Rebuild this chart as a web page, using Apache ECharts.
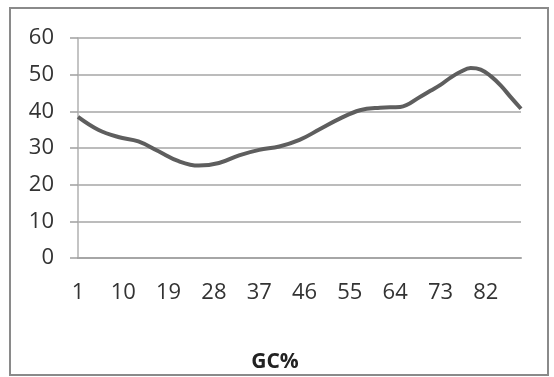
<!DOCTYPE html>
<html>
<head>
<meta charset="utf-8">
<script src="https://cdn.jsdelivr.net/npm/echarts@6/dist/echarts.min.js"></script>
<style>
html,body{margin:0;padding:0;background:#fff;}
#c{width:554px;height:377px;}
</style>
</head>
<body>
<div id="c"></div>
<script>
// GC% positions (category number) where the curve was read, and values
var gcPositions = [1, 5, 9, 13, 17, 21, 25, 29, 33, 37, 41, 45, 49, 53, 57, 61, 65, 69, 71, 73, 75, 77, 79, 81, 83, 85, 87, 89];
var values      = [38.5, 35.0, 33.0, 31.8, 29.1, 26.4, 25.2, 25.9, 28.0, 29.5, 30.4, 32.2, 35.1, 38.0, 40.3, 41.0, 41.2, 44.0, 45.6, 47.2, 49.2, 50.8, 51.8, 51.4, 49.6, 47.0, 43.8, 40.7];
var xTickLabels = ['1', '10', '19', '28', '37', '46', '55', '64', '73', '82'];
var yTickLabels = [0, 10, 20, 30, 40, 50, 60];
var xTitle = 'GC%';

var chart = echarts.init(document.getElementById('c'));
var seriesData = gcPositions.map(function (p, i) { return [p - 1, values[i]]; });
var font = '"Open Sans", "DejaVu Sans", sans-serif';

chart.setOption({
  animation: false,
  backgroundColor: '#ffffff',
  grid: { left: 78, top: 38, right: 33, bottom: 119, containLabel: false },
  xAxis: {
    type: 'value',
    min: 0,
    max: 88,
    interval: 9,
    axisLine: { show: true, lineStyle: { color: '#a6a6a6', width: 2 } },
    axisTick: { show: false },
    splitLine: { show: false },
    axisLabel: {
      margin: 24,
      fontSize: 22,
      fontFamily: font,
      color: '#333333',
      showMaxLabel: false,
      formatter: function (v) {
        var idx = Math.round(v / 9);
        return (v % 9 === 0 && xTickLabels[idx] !== undefined) ? xTickLabels[idx] : '';
      }
    }
  },
  yAxis: {
    type: 'value',
    min: yTickLabels[0],
    max: yTickLabels[yTickLabels.length - 1],
    interval: 10,
    axisLine: { show: true, lineStyle: { color: '#b0b0b0', width: 1.5 } },
    axisTick: { show: true, length: 8, lineStyle: { color: '#a0a0a0', width: 1.5 } },
    splitLine: { show: true, lineStyle: { color: '#a6a6a6', width: 1.5 } },
    axisLabel: {
      margin: 24,
      fontSize: 22,
      fontFamily: font,
      color: '#333333'
    }
  },
  graphic: [
    {
      type: 'rect',
      shape: { x: 10, y: 8, width: 538, height: 367 },
      style: { fill: 'none', stroke: '#8a8a8a', lineWidth: 2 },
      silent: true,
      z: -1
    },
    {
      type: 'text',
      x: 275,
      y: 362,
      style: {
        text: xTitle,
        fontSize: 21,
        fontWeight: 'bold',
        fontFamily: font,
        fill: '#222222',
        align: 'center',
        verticalAlign: 'middle'
      }
    }
  ],
  series: [{
    type: 'line',
    data: seriesData,
    smooth: 0.4,
    showSymbol: false,
    symbol: 'none',
    lineStyle: { color: '#5e5e5e', width: 4 }
  }]
});
</script>
</body>
</html>
